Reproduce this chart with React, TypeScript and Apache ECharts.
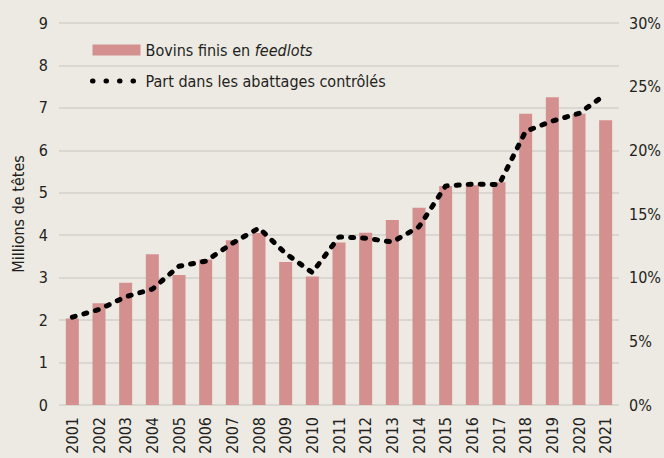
import React, { useEffect, useRef } from "react";
import * as echarts from "echarts";

const years = ["2001","2002","2003","2004","2005","2006","2007","2008","2009","2010","2011","2012","2013","2014","2015","2016","2017","2018","2019","2020","2021"];
const feedlotHeads = [2.04,2.4,2.88,3.55,3.06,3.43,3.88,4.05,3.37,3.03,3.83,4.06,4.36,4.65,5.16,5.18,5.25,6.86,7.25,6.86,6.71];
const sharePct = [6.9,7.5,8.5,9.1,10.9,11.3,12.7,13.9,11.9,10.4,13.2,13.1,12.8,14.0,17.2,17.35,17.3,21.5,22.3,22.9,24.4];
const leftTicks = { min: 0, max: 9, interval: 1 };
const rightTicks = { min: 0, max: 30, interval: 5 };

const BAR_NAME = "Bovins finis en feedlots";
const LINE_NAME = "Part dans les abattages contrôlés";
const FONT = "'DejaVu Sans Condensed', 'DejaVu Sans', sans-serif";
const FS = 16;
const TXT = "#231F20";

export default function App() {
  const ref = useRef<HTMLDivElement>(null);
  useEffect(() => {
    document.body.style.margin = "0";
    document.body.style.background = "#EDEAE4";
    const chart = echarts.init(ref.current!, null, { renderer: "svg" });
    chart.setOption({
      animation: false,
      backgroundColor: "#EDEAE4",
      textStyle: { fontFamily: FONT, color: TXT },
      grid: { left: 59, right: 45, top: 23, bottom: 53 },
      legend: {
        orient: "vertical",
        left: 85,
        top: 37,
        itemWidth: 48,
        itemHeight: 11,
        itemGap: 15,
        data: [
          { name: BAR_NAME, icon: "rect" },
          {
            name: LINE_NAME,
            itemStyle: { opacity: 0 },
            lineStyle: { width: 5, type: [0.5, 13], cap: "round", color: "#000" },
          },
        ],
        textStyle: {
          fontFamily: FONT,
          fontSize: FS,
          color: TXT,
          rich: {
            n: { fontFamily: FONT, fontSize: FS, color: TXT },
            i: { fontFamily: FONT, fontSize: FS, color: TXT, fontStyle: "italic" },
          },
        },
        formatter: (name: string) =>
          name === BAR_NAME ? "{n|Bovins finis en }{i|feedlots}" : "{n|" + name + "}",
      },
      xAxis: {
        type: "category",
        data: years,
        axisLine: { show: false },
        axisTick: { show: false },
        axisLabel: { rotate: 90, fontSize: FS, fontFamily: FONT, color: TXT, margin: 12 },
      },
      yAxis: [
        {
          type: "value",
          ...leftTicks,
          name: "Millions de têtes",
          nameLocation: "middle",
          nameGap: 33,
          nameTextStyle: { fontSize: FS, fontFamily: FONT, color: TXT },
          axisLine: { show: false },
          axisTick: { show: false },
          axisLabel: { fontSize: FS, fontFamily: FONT, color: TXT, margin: 11 },
          splitLine: { lineStyle: { color: "#D2D0CC", width: 1.5 } },
        },
        {
          type: "value",
          ...rightTicks,
          position: "right",
          axisLine: { show: false },
          axisTick: { show: false },
          axisLabel: { fontSize: FS, fontFamily: FONT, color: TXT, margin: 10, formatter: "{value}%" },
          splitLine: { show: false },
        },
      ],
      series: [
        {
          name: BAR_NAME,
          type: "bar",
          data: feedlotHeads,
          barWidth: 13,
          itemStyle: { color: "#D48F8F" },
          yAxisIndex: 0,
        },
        {
          name: LINE_NAME,
          type: "line",
          data: sharePct,
          yAxisIndex: 1,
          symbol: "none",
          lineStyle: { color: "#000", width: 5, type: [3, 9], cap: "round" },
          itemStyle: { color: "#000" },
        },
      ],
    });
    return () => chart.dispose();
  }, []);
  return <div ref={ref} style={{ position: "absolute", left: 0, top: 0, width: 664, height: 458 }} />;
}
